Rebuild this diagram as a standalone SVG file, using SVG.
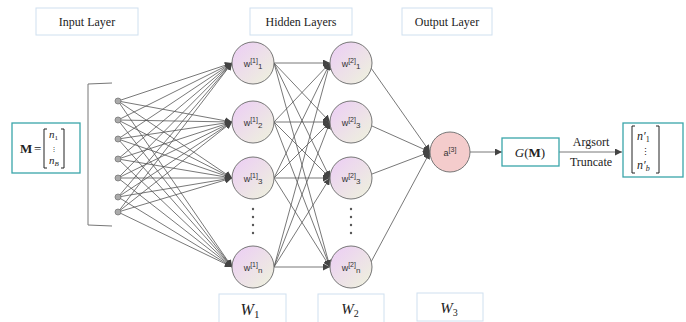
<svg xmlns="http://www.w3.org/2000/svg" width="686" height="322" viewBox="0 0 686 322">
<style>
.lbl{fill:#fff;stroke:#cfe0ef;stroke-width:1}
.tbox{fill:#fff;stroke:#3aa5aa;stroke-width:1.3}
.ser{font-family:"Liberation Serif","Times New Roman",serif;fill:#222}
.conn line{stroke:#555;stroke-width:0.8}
.hn{fill:url(#ng);stroke:#777;stroke-width:1}
.nt{font-family:"Liberation Sans",Arial,sans-serif;font-size:9px;fill:#333;text-anchor:middle}
.inp{fill:#aaa;stroke:#777;stroke-width:0.8}
.dot{fill:#555}
</style>
<defs>
<linearGradient id="ng" x1="0" y1="0" x2="1" y2="1">
<stop offset="0" stop-color="#ecccf6"/>
<stop offset="1" stop-color="#eef3dc"/>
</linearGradient>
<marker id="ah" viewBox="0 0 10 10" refX="10" refY="5" markerWidth="7" markerHeight="7" markerUnits="userSpaceOnUse" orient="auto">
<path d="M0,0 L10,5 L0,10 z" fill="#444"/>
</marker>
</defs>

<g id="input-layer-label"><rect class="lbl" x="36" y="8" width="102" height="27"/><text class="ser" x="87" y="26" font-size="12" text-anchor="middle">Input Layer</text></g>
<g id="hidden-layers-label"><rect class="lbl" x="250" y="8" width="102" height="27"/><text class="ser" x="301" y="26" font-size="12" text-anchor="middle">Hidden Layers</text></g>
<g id="output-layer-label"><rect class="lbl" x="402" y="8" width="90" height="27"/><text class="ser" x="447" y="26" font-size="12" text-anchor="middle">Output Layer</text></g>

<g id="connectors" class="conn">
<g marker-end="url(#ah)">
<line x1="118" y1="101" x2="232" y2="63"/><line x1="118" y1="101" x2="232" y2="122"/><line x1="118" y1="101" x2="232" y2="178"/><line x1="118" y1="101" x2="232" y2="267"/>
<line x1="118" y1="120" x2="232" y2="63"/><line x1="118" y1="120" x2="232" y2="122"/><line x1="118" y1="120" x2="232" y2="178"/><line x1="118" y1="120" x2="232" y2="267"/>
<line x1="118" y1="139" x2="232" y2="63"/><line x1="118" y1="139" x2="232" y2="122"/><line x1="118" y1="139" x2="232" y2="178"/><line x1="118" y1="139" x2="232" y2="267"/>
<line x1="118" y1="159" x2="232" y2="63"/><line x1="118" y1="159" x2="232" y2="122"/><line x1="118" y1="159" x2="232" y2="178"/><line x1="118" y1="159" x2="232" y2="267"/>
<line x1="118" y1="178" x2="232" y2="63"/><line x1="118" y1="178" x2="232" y2="122"/><line x1="118" y1="178" x2="232" y2="178"/><line x1="118" y1="178" x2="232" y2="267"/>
<line x1="118" y1="197" x2="232" y2="63"/><line x1="118" y1="197" x2="232" y2="122"/><line x1="118" y1="197" x2="232" y2="178"/><line x1="118" y1="197" x2="232" y2="267"/>
<line x1="118" y1="212" x2="232" y2="63"/><line x1="118" y1="212" x2="232" y2="122"/><line x1="118" y1="212" x2="232" y2="178"/><line x1="118" y1="212" x2="232" y2="267"/>
<line x1="274" y1="63" x2="330" y2="63"/><line x1="274" y1="63" x2="330" y2="122"/><line x1="274" y1="63" x2="330" y2="178"/><line x1="274" y1="63" x2="330" y2="267"/>
<line x1="274" y1="122" x2="330" y2="63"/><line x1="274" y1="122" x2="330" y2="122"/><line x1="274" y1="122" x2="330" y2="178"/><line x1="274" y1="122" x2="330" y2="267"/>
<line x1="274" y1="178" x2="330" y2="63"/><line x1="274" y1="178" x2="330" y2="122"/><line x1="274" y1="178" x2="330" y2="178"/><line x1="274" y1="178" x2="330" y2="267"/>
<line x1="274" y1="267" x2="330" y2="63"/><line x1="274" y1="267" x2="330" y2="122"/><line x1="274" y1="267" x2="330" y2="178"/><line x1="274" y1="267" x2="330" y2="267"/>
<line x1="371" y1="68" x2="430" y2="152"/><line x1="372" y1="126" x2="430" y2="152"/><line x1="372" y1="174" x2="430" y2="152"/><line x1="371" y1="262" x2="430" y2="152"/>
<line x1="470" y1="152" x2="502" y2="152"/>
<line x1="559" y1="152" x2="622" y2="152"/>
</g>
</g>

<g id="bracket"><path d="M112,83 L88,84 L88,225 L112,226" fill="none" stroke="#777" stroke-width="1"/></g>

<g id="input-nodes">
<circle class="inp" cx="118" cy="101" r="3"/><circle class="inp" cx="118" cy="120" r="3"/><circle class="inp" cx="118" cy="139" r="3"/><circle class="inp" cx="118" cy="159" r="3"/><circle class="inp" cx="118" cy="178" r="3"/><circle class="inp" cx="118" cy="197" r="3"/><circle class="inp" cx="118" cy="212" r="3"/>
</g>

<g id="h1-1"><circle class="hn" cx="253" cy="63" r="21"/><text class="nt" x="253" y="67">w<tspan dy="-4" font-size="7">[1]</tspan><tspan dy="6" font-size="8">1</tspan></text></g>
<g id="h1-2"><circle class="hn" cx="253" cy="122" r="21"/><text class="nt" x="253" y="126">w<tspan dy="-4" font-size="7">[1]</tspan><tspan dy="6" font-size="8">2</tspan></text></g>
<g id="h1-3"><circle class="hn" cx="253" cy="178" r="21"/><text class="nt" x="253" y="182">w<tspan dy="-4" font-size="7">[1]</tspan><tspan dy="6" font-size="8">3</tspan></text></g>
<g id="h1-dots"><circle class="dot" cx="253" cy="209" r="1.2"/><circle class="dot" cx="253" cy="217" r="1.2"/><circle class="dot" cx="253" cy="225" r="1.2"/><circle class="dot" cx="253" cy="233" r="1.2"/></g>
<g id="h1-n"><circle class="hn" cx="253" cy="267" r="21"/><text class="nt" x="253" y="271">w<tspan dy="-4" font-size="7">[1]</tspan><tspan dy="6" font-size="8">n</tspan></text></g>

<g id="h2-1"><circle class="hn" cx="351" cy="63" r="21"/><text class="nt" x="351" y="67">w<tspan dy="-4" font-size="7">[2]</tspan><tspan dy="6" font-size="8">1</tspan></text></g>
<g id="h2-2"><circle class="hn" cx="351" cy="122" r="21"/><text class="nt" x="351" y="126">w<tspan dy="-4" font-size="7">[2]</tspan><tspan dy="6" font-size="8">3</tspan></text></g>
<g id="h2-3"><circle class="hn" cx="351" cy="178" r="21"/><text class="nt" x="351" y="182">w<tspan dy="-4" font-size="7">[2]</tspan><tspan dy="6" font-size="8">3</tspan></text></g>
<g id="h2-dots"><circle class="dot" cx="351" cy="209" r="1.2"/><circle class="dot" cx="351" cy="217" r="1.2"/><circle class="dot" cx="351" cy="225" r="1.2"/><circle class="dot" cx="351" cy="233" r="1.2"/></g>
<g id="h2-n"><circle class="hn" cx="351" cy="267" r="21"/><text class="nt" x="351" y="271">w<tspan dy="-4" font-size="7">[2]</tspan><tspan dy="6" font-size="8">n</tspan></text></g>

<g id="output-node"><circle cx="450" cy="152" r="20" fill="#f4cccc" stroke="#777" stroke-width="1"/><text class="nt" x="450" y="156" font-size="10">a<tspan dy="-4" font-size="7">[3]</tspan></text></g>

<g id="m-box"><rect class="tbox" x="12" y="123" width="68" height="50"/>
<text class="ser" x="20" y="153" font-size="13" font-weight="bold">M</text>
<text class="ser" x="34" y="153" font-size="13">=</text>
<path d="M47,129 L44,129 L44,168 L47,168 M61,129 L64,129 L64,168 L61,168" fill="none" stroke="#222" stroke-width="1"/>
<text class="ser" x="49" y="138" font-size="11" font-style="italic">n<tspan dy="2" font-size="7" font-style="normal">1</tspan></text>
<text class="ser" x="54" y="151" font-size="6" text-anchor="middle">⋮</text>
<text class="ser" x="49" y="164" font-size="11" font-style="italic">n<tspan dy="2" font-size="7">B</tspan></text>
</g>

<g id="g-box"><rect class="tbox" x="502" y="138" width="57" height="28"/>
<text class="ser" x="530" y="157" font-size="13" text-anchor="middle"><tspan font-style="italic">G</tspan>(<tspan font-weight="bold">M</tspan>)</text></g>

<g id="argsort-label"><text class="ser" x="591" y="146" font-size="12" text-anchor="middle">Argsort</text><text class="ser" x="591" y="166" font-size="12" text-anchor="middle">Truncate</text></g>

<g id="result-box"><rect class="tbox" x="623" y="123" width="60" height="54"/>
<path d="M635,126 L632,126 L632,173 L635,173 M656,126 L659,126 L659,173 L656,173" fill="none" stroke="#222" stroke-width="1"/>
<text class="ser" x="637" y="140" font-size="12" font-style="italic">n′<tspan dy="2" font-size="8" font-style="normal">1</tspan></text>
<text class="ser" x="645" y="155" font-size="9" text-anchor="middle">⋮</text>
<text class="ser" x="637" y="169" font-size="12" font-style="italic">n′<tspan dy="2" font-size="8">b</tspan></text>
</g>

<g id="w1"><rect class="lbl" x="219" y="294" width="67" height="30"/><text class="ser" x="250" y="315" font-size="16" text-anchor="middle"><tspan font-style="italic">W</tspan><tspan dy="3" font-size="11">1</tspan></text></g>
<g id="w2"><rect class="lbl" x="318" y="294" width="66" height="30"/><text class="ser" x="350" y="314" font-size="15" text-anchor="middle"><tspan font-style="italic">W</tspan><tspan dy="3" font-size="10">2</tspan></text></g>
<g id="w3"><rect class="lbl" x="417" y="293" width="66" height="28"/><text class="ser" x="449" y="313" font-size="15" text-anchor="middle"><tspan font-style="italic">W</tspan><tspan dy="3" font-size="10">3</tspan></text></g>
</svg>
